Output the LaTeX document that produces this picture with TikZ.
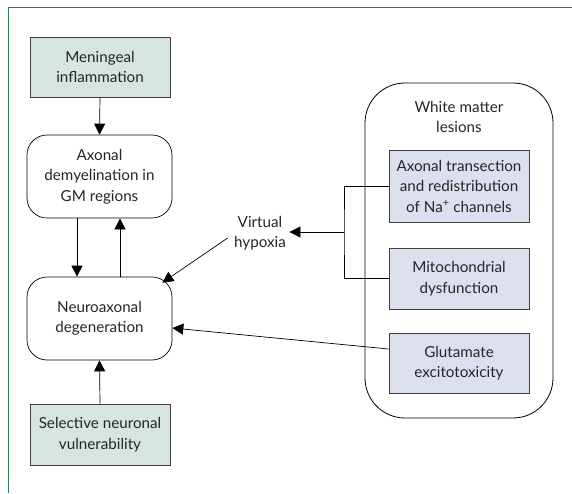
\documentclass[tikz,border=0pt]{standalone}
\usepackage{fontspec}
\setmainfont{Lato}
\usetikzlibrary{arrows.meta}
\definecolor{framegreen}{HTML}{2E8050}
\definecolor{causefill}{HTML}{D8E5DE}
\definecolor{lesionfill}{HTML}{DCE0EE}
\tikzset{
  causebox/.style={draw=black!75,fill=causefill,line width=0.9pt,
    minimum width=140pt,minimum height=60pt,align=center,inner sep=2pt},
  stagebox/.style={draw=black,line width=0.7pt,rounded corners=20pt,
    minimum width=145pt,minimum height=83pt,align=center,inner sep=2pt},
  lesionbox/.style={draw=black!75,fill=lesionfill,line width=0.8pt,
    minimum width=140pt,minimum height=60pt,align=center,inner sep=2pt},
  flowarrow/.style={-{Triangle[length=11pt,width=11pt]},line width=0.7pt},
  every picture/.style={font=\fontsize{15.2}{20.5}\selectfont,text=black!85}
}

\begin{document}
\begin{tikzpicture}[x=1pt,y=-1pt]
  \useasboundingbox (0,0) rectangle (572,493);
  \draw[framegreen,line width=1pt] (8,493)--(8,7)--(572,7);
  % grey matter side
  \node[causebox] (meningeal) at (100,67) {Meningeal\\inflammation};
  \node[stagebox] (demyel) at (99.5,176.5) {Axonal\\demyelination in\\GM regions};
  \node[stagebox] (neuro) at (99.5,318.5) {Neuroaxonal\\degeneration};
  \node[causebox,minimum height=61pt] (selective) at (100,434.5)
    {Selective neuronal\\vulnerability};
  \node[align=center] (hypoxia) at (260,233) {Virtual\\hypoxia};
  % white matter side
  \draw[line width=0.8pt,rounded corners=40pt] (365,83) rectangle (553,418);
  \node[align=center] (wmtitle) at (459,117) {White matter\\lesions};
  \node[lesionbox,minimum height=72pt] (transect) at (459,186)
    {Axonal transection\\and redistribution\\of Na\textsuperscript{+} channels};
  \node[lesionbox,minimum height=61pt] (mito) at (459,278.5)
    {Mitochondrial\\dysfunction};
  \node[lesionbox] (glutamate) at (459,363) {Glutamate\\excitotoxicity};
  \coordinate (fork) at (344,232);
  \draw[flowarrow] (meningeal.south)--(demyel.north);
  \draw[flowarrow] ([xshift=-22.5pt]demyel.south)--([xshift=-22.5pt]neuro.north);
  \draw[flowarrow] ([xshift=20.5pt]neuro.north)--([xshift=20.5pt]demyel.south);
  \draw[flowarrow] (selective.north)--(neuro.south);
  \draw[line width=0.7pt] (transect.west)-|(fork)|-(mito.west);
  \draw[flowarrow] (fork)--(fork-|hypoxia.east);
  \draw[flowarrow] ([xshift=-3pt,yshift=-5pt]hypoxia.west)
    --([xshift=-10pt,yshift=-6pt]neuro.north east);
  \draw[flowarrow] ([yshift=14pt]glutamate.west)--([yshift=-9.5pt]neuro.east);
\end{tikzpicture}
\end{document}
